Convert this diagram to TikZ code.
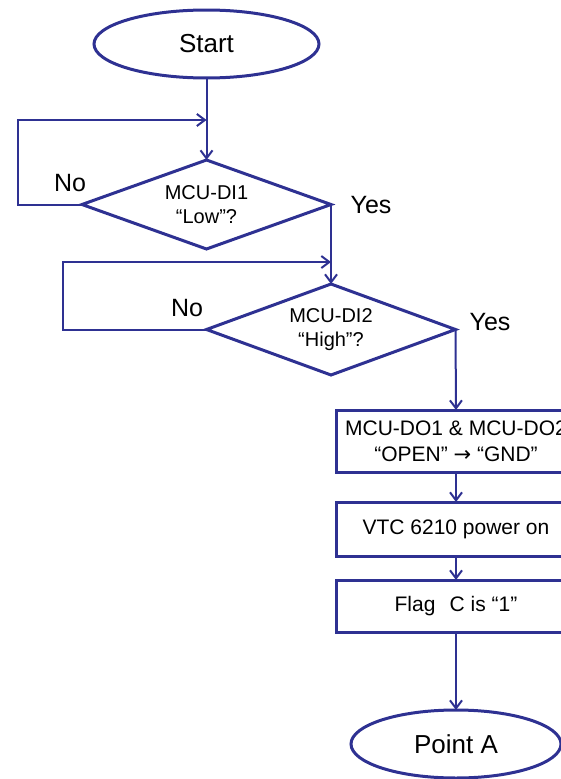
\documentclass[tikz,border=0pt]{standalone}
\usepackage{fontspec}
\setmainfont{Liberation Sans}
\newfontfamily\arrowfont{DejaVu Sans}
\usetikzlibrary{shapes.geometric,arrows.meta}
\definecolor{fblue}{RGB}{46,49,146}
\begin{document}
\begin{tikzpicture}[x=1pt,y=-1pt,
  shapeline/.style={draw=fblue, line width=3pt, outer sep=0pt, inner sep=0pt, text=black},
  term/.style={shapeline, ellipse, minimum height=68pt, font=\fontsize{26}{30}\selectfont},
  decide/.style={shapeline, diamond, aspect=2.8, minimum width=249pt, align=center, font=\fontsize{20}{24}\selectfont},
  proc/.style={shapeline, rectangle, minimum width=240pt, align=center, font=\fontsize{21}{26}\selectfont},
  conn/.style={draw=fblue, line width=2pt},
  arr/.style={conn, -{Straight Barb[length=8pt,width=12pt]}},
  lab/.style={font=\fontsize{25}{30}\selectfont}]
\useasboundingbox (0,0) rectangle (561,779);
\clip (0,0) rectangle (561,779);

\node[term, minimum width=225pt] (start) at (206.5,44) {Start};
\node[decide, minimum height=89pt] (d1) at (206.5,204.5) {MCU-DI1\\“Low”?};
\node[decide, minimum height=91pt] (d2) at (331,329.5) {MCU-DI2\\“High”?};
\node[proc, minimum height=62pt] (b1) at (456,441) {MCU-DO1 \& MCU-DO2\\“OPEN” {\arrowfont →} “GND”};
\node[proc, minimum height=54pt] (b2) at (456,529) {VTC 6210 power on};
\node[proc, minimum height=52pt] (b3) at (456,606) {Flag\hspace{0.4em} C is “1”};
\node[term, minimum width=210pt] (pa) at (456,744) {Point A};

\node[lab] (no1) at (70,183) {No};
\node[lab] (yes1) at (371,205) {Yes};
\node[lab] (no2) at (187,308) {No};
\node[lab] (yes2) at (490,322) {Yes};

\coordinate (j1) at (206.5,120);
\coordinate (j2) at (331,262);

\draw[arr] (start.south) -- (d1.north);
\draw[arr] (d1.west) -- (18,204.5) |- (j1);
\draw[arr] (d1.east) -- (d2.north);
\draw[arr] (d2.west) -- (63,329.5) |- (j2);
\draw[arr] (d2.east) -- (b1.north);
\draw[arr] (b1.south) -- (b2.north);
\draw[arr] (b2.south) -- (b3.north);
\draw[arr] (b3.south) -- (pa.north);
\end{tikzpicture}
\end{document}
